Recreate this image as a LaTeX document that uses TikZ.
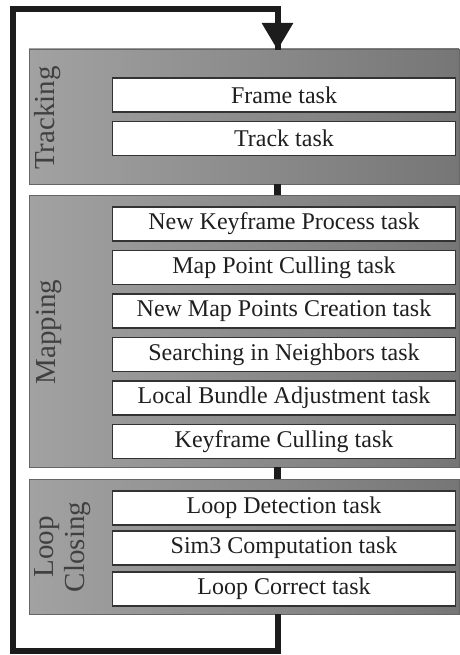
\documentclass[tikz,border=0pt]{standalone}
\usepackage{fontspec}
\setmainfont{Liberation Serif}
\usetikzlibrary{arrows.meta}
\definecolor{panelL}{RGB}{162,162,162}
\definecolor{panelR}{RGB}{118,118,118}
\definecolor{ink}{RGB}{28,28,28}
\tikzset{
  panel/.style={draw=black!60, line width=0.8pt, left color=panelL, right color=panelR,
    minimum width=430pt, inner sep=0pt, outer sep=0pt},
  taskbox/.style={draw=black!80, fill=white, line width=1.3pt, minimum width=343pt,
    minimum height=34pt, inner sep=0pt, text=black!88,
    font=\fontsize{24}{26}\selectfont},
  stage/.style={rotate=90, align=center, text=black!75, inner sep=0pt,
    font=\fontsize{29}{31}\selectfont},
  flow/.style={draw=ink, line width=7pt},
  loopline/.style={draw=ink, line width=6pt}
}
\begin{document}
\begin{tikzpicture}[x=1pt, y=-1pt]
\useasboundingbox (0,0) rectangle (459,655);

% stage panels
\node[panel, minimum height=135pt] (trk) at (244,116.5) {};
\node[panel, minimum height=272pt] (map) at (244,331) {};
\node[panel, minimum height=135pt] (lc)  at (244,546.5) {};

% stage titles
\node[stage] (trkL) at (48,118) {Tracking};
\node[stage] (mapL) at (49,332) {Mapping};
\node[stage] (lcL)  at (63,547) {Loop\\Closing};

% tracking tasks
\node[taskbox] (t1) at (284,95)    {Frame task};
\node[taskbox] (t2) at (284,138.5) {Track task};

% mapping tasks
\node[taskbox] (m1) at (284,224)   {New Keyframe Process task};
\node[taskbox] (m2) at (284,267.5) {Map Point Culling task};
\node[taskbox] (m3) at (284,311)   {New Map Points Creation task};
\node[taskbox] (m4) at (284,354.5) {Searching in Neighbors task};
\node[taskbox] (m5) at (284,398)   {Local Bundle Adjustment task};
\node[taskbox] (m6) at (284,441.5) {Keyframe Culling task};

% loop closing tasks
\node[taskbox] (l1) at (284,508)   {Loop Detection task};
\node[taskbox] (l2) at (284,548)   {Sim3 Computation task};
\node[taskbox] (l3) at (284,589)   {Loop Correct task};

% links between stages
\path[flow] (trk.south -| 277.5,0) -- (map.north -| 277.5,0);
\path[flow] (map.south -| 277.5,0) -- (lc.north -| 277.5,0);

% feedback loop back to tracking
\coordinate (b1) at (277.5,651);
\coordinate (b2) at (12.5,651);
\coordinate (b3) at (12.5,9);
\coordinate (b4) at (277.5,9);
\draw[loopline, line join=miter] (lc.south -| b1) -- (b1) -- (b2) -- (b3) -- (b4)
  -- ([yshift=-1pt]trk.north -| b4);
\draw[ink, line width=6pt, -{Triangle[width=30pt,length=27pt]}]
  (277.5,20) -- ([yshift=-1pt]trk.north -| b4);
\end{tikzpicture}
\end{document}
